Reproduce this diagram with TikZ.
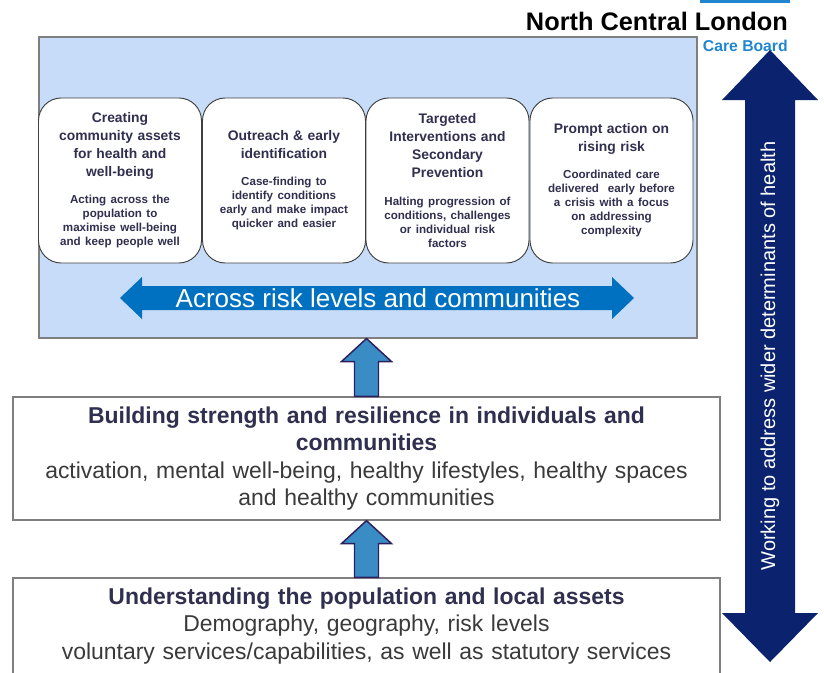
\documentclass[tikz,border=0pt]{standalone}
\usepackage{fontspec}
\setmainfont{Liberation Sans}
\usetikzlibrary{calc}
\definecolor{PanelBlue}{HTML}{C6DCF8}
\definecolor{PanelLine}{HTML}{7F7F7F}
\definecolor{BoxLine}{HTML}{3F3F3F}
\definecolor{TextNavy}{HTML}{2F2F4F}
\definecolor{TextGrey}{HTML}{3A3A3A}
\definecolor{AcrossBlue}{HTML}{0070C0}
\definecolor{NavyArrow}{HTML}{0B236E}
\definecolor{StepBlue}{HTML}{3A8CC4}
\definecolor{StepLine}{HTML}{2E1F5E}
\definecolor{CareBlue}{HTML}{1F86CF}
\newcommand{\riskhead}{\fontsize{10.4}{13.5}\selectfont\bfseries}
\newcommand{\riskbody}{\fontsize{8.7}{10.5}\selectfont\bfseries}
\tikzset{
  panel/.style={draw=PanelLine, fill=PanelBlue, line width=0.8pt, inner sep=0pt,
    minimum width=493.5pt, minimum height=225.75pt},
  riskbox/.style={draw=BoxLine, fill=white, line width=0.7pt, rounded corners=17pt,
    minimum width=122.25pt, minimum height=123.75pt, text width=114pt, align=center,
    text=TextNavy, inner sep=2pt},
  levelbox/.style={draw=PanelLine, fill=white, line width=0.9pt, inner sep=0pt,
    minimum width=530.25pt, text width=525pt, align=center, text=TextGrey,
    font=\fontsize{17.2}{20.5}\selectfont},
  stepup/.style={fill=StepBlue, draw=StepLine, line width=1.1pt, line join=miter}
}
\begin{document}
\begin{tikzpicture}[x=0.75pt,y=-0.75pt]
\useasboundingbox (0,0) rectangle (824,672);
\clip (0,0) rectangle (824,672);

% header
\fill[CareBlue] (700,0) rectangle (790,2.5);
\node[anchor=base east, inner sep=0pt, font=\fontsize{19}{22}\selectfont\bfseries] (ncl) at (788,30) {North Central London};
\node[anchor=base east, inner sep=0pt, text=CareBlue, font=\fontsize{11.8}{14}\selectfont\bfseries] (icb) at (788,51) {Integrated Care Board};

% top panel with the four ways of working
\node[panel] (panel) at (368,187.5) {};

\node[riskbox] (create) at (120,180.5) {{\riskhead Creating\\community assets\\for health and\\well-being\par}\vspace{10pt}%
  {\riskbody Acting across the\\population to\\maximise well-being\\and keep people well\par}};
\node[riskbox] (outreach) at (284,180.5) {{\riskhead Outreach \& early\\identification\par}\vspace{10pt}%
  {\riskbody Case-finding to\\identify conditions\\early and make impact\\quicker and easier\par}};
\node[riskbox] (targeted) at (447.5,180.5) {{\riskhead Targeted\\Interventions and\\Secondary\\Prevention\par}\vspace{10pt}%
  {\riskbody Halting progression of\\conditions, challenges\\or individual risk\\factors\par}};
\node[riskbox] (prompt) at (611.5,180.5) {{\riskhead Prompt action on\\rising risk\par}\vspace{10pt}%
  {\riskbody Coordinated care\\delivered\ \ early before\\a crisis with a focus\\on addressing\\complexity\par}};

% across arrow
\fill[AcrossBlue] (120,298) -- (142,277) -- (142,286) -- (612,286) -- (612,277) -- (634,298)
  -- (612,319) -- (612,310) -- (142,310) -- (142,319) -- cycle;
\node[text=white, inner sep=0pt, font=\fontsize{19.5}{22}\selectfont] (across) at (378,298) {Across risk levels and communities};

% lower levels
\node[levelbox, minimum height=92.25pt] (build) at (366.5,458.5)
  {{\color{TextNavy}\bfseries Building strength and resilience in individuals and\\communities\par}
   activation, mental well-being, healthy lifestyles, healthy spaces\\and healthy communities};
\node[levelbox, minimum height=72pt] (assets) at (366.5,626)
  {{\color{TextNavy}\bfseries Understanding the population and local assets\par}
   Demography, geography, risk levels\\voluntary services/capabilities, as well as statutory services};

% steps up
\draw[stepup] ($(build.north)+(-12,0)$) -- ($(panel.south -| build.north)+(-12,23)$)
  -- ($(panel.south -| build.north)+(-25,23)$) -- (panel.south -| build.north)
  -- ($(panel.south -| build.north)+(25,23)$) -- ($(panel.south -| build.north)+(12,23)$)
  -- ($(build.north)+(12,0)$) -- cycle;
\draw[stepup] ($(assets.north)+(-12,0)$) -- ($(build.south)+(-12,23)$)
  -- ($(build.south)+(-25,23)$) -- (build.south)
  -- ($(build.south)+(25,23)$) -- ($(build.south)+(12,23)$)
  -- ($(assets.north)+(12,0)$) -- cycle;

% wider determinants arrow
\fill[NavyArrow] (770,50) -- (818,100) -- (795,100) -- (795,613) -- (818,613) -- (770,662)
  -- (722,613) -- (745,613) -- (745,100) -- (722,100) -- cycle;
\node[rotate=90, text=white, inner sep=0pt, font=\fontsize{15}{18}\selectfont] (wider) at (770,356) {Working to address wider determinants of health};
\end{tikzpicture}
\end{document}
